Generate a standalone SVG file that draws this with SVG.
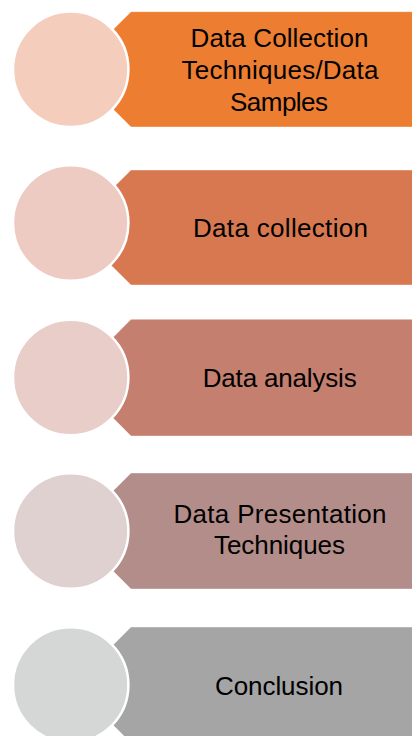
<svg xmlns="http://www.w3.org/2000/svg" width="412" height="736" viewBox="0 0 412 736">
<style>
.bn{stroke:#ffffff;stroke-opacity:0.4;stroke-width:1}
.ci{stroke:#ffffff;stroke-width:2.5}
.t{font-family:"Liberation Sans",Arial,sans-serif;font-size:26px;fill:#000;text-anchor:middle}
</style>
<rect width="412" height="736" fill="#ffffff"/>
<g id="node1">
<polygon class="bn" fill="#ED7D31" points="73,69.3 131,11.7 420,11.7 420,127 131,127"/>
<circle class="ci" fill="#F5CDBC" cx="70.7" cy="69.3" r="57.7"/>
<text class="t" x="279.5" y="46.7" textLength="178">Data Collection</text>
<text class="t" x="280" y="79" textLength="197">Techniques/Data</text>
<text class="t" x="279" y="111" textLength="98">Samples</text>
</g>
<g id="node2">
<polygon class="bn" fill="#D87850" points="73,227.5 131,170 420,170 420,285 131,285"/>
<circle class="ci" fill="#EDCAC2" cx="70.7" cy="223" r="57.7"/>
<text class="t" x="280.5" y="236.7" textLength="175">Data collection</text>
</g>
<g id="node3">
<polygon class="bn" fill="#C47F6E" points="73,377.7 131,319.3 420,319.3 420,436 131,436"/>
<circle class="ci" fill="#E8CDC8" cx="70.7" cy="377.5" r="57.7"/>
<text class="t" x="279.7" y="387.3" textLength="154">Data analysis</text>
</g>
<g id="node4">
<polygon class="bn" fill="#B38D89" points="73,531 131,473 420,473 420,589 131,589"/>
<circle class="ci" fill="#DFD1D0" cx="70.7" cy="531" r="57.7"/>
<text class="t" x="280" y="523.3" textLength="213">Data Presentation</text>
<text class="t" x="279.5" y="554.3" textLength="131">Techniques</text>
</g>
<g id="node5">
<polygon class="bn" fill="#A5A5A5" points="73,685 131,627 420,627 420,743 131,743"/>
<circle class="ci" fill="#D5D7D7" cx="70.7" cy="685" r="57.7"/>
<text class="t" x="279" y="695" textLength="128">Conclusion</text>
</g>
<g id="connectors"></g>
</svg>
